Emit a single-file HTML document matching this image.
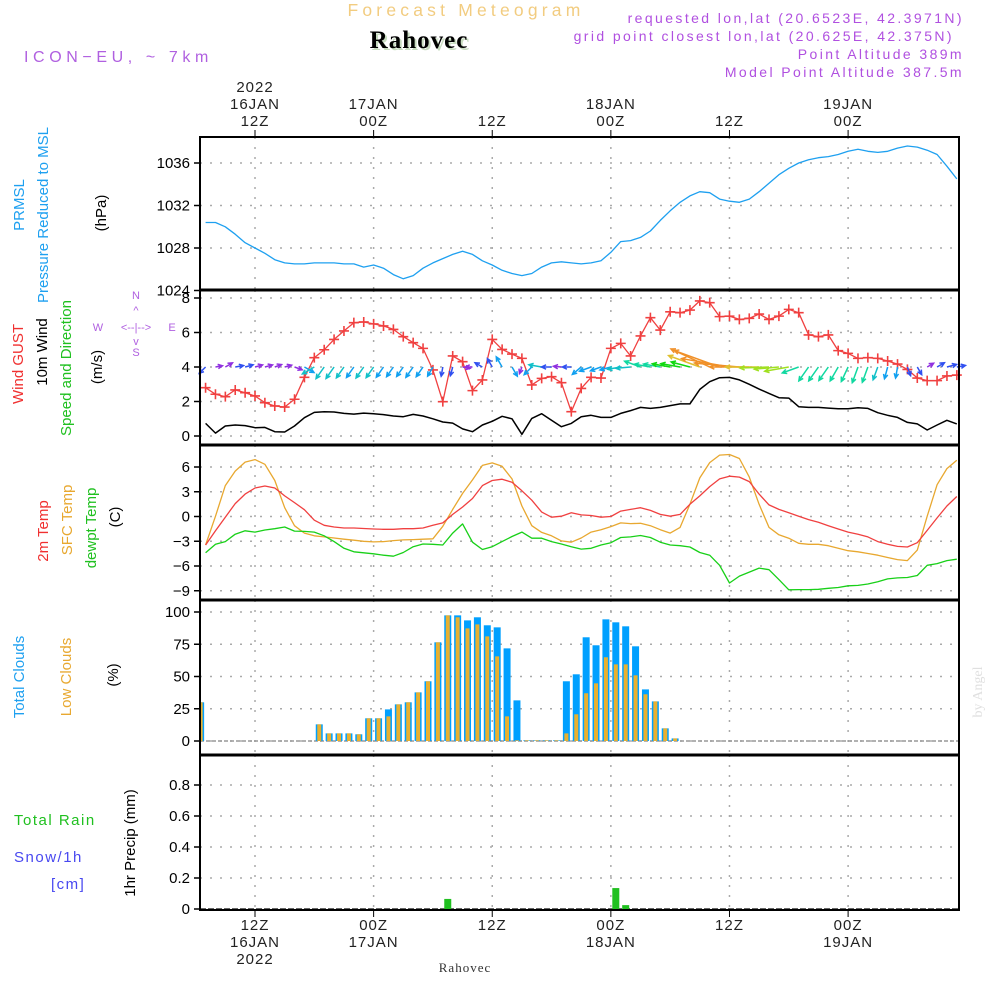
<!DOCTYPE html>
<html><head><meta charset="utf-8">
<style>
html,body{margin:0;padding:0;background:#fff;}
svg{display:block;font-family:"Liberation Sans",sans-serif;}
.tk{font-size:15px;fill:#000;text-anchor:end;}
.tl{font-size:15px;fill:#222;text-anchor:middle;letter-spacing:1px;}
.lab{font-size:15px;}
</style></head>
<body>
<svg id="chart" width="1000" height="1000" viewBox="0 0 1000 1000" xmlns="http://www.w3.org/2000/svg">
<g id="header">
<text x="466" y="16" font-size="17.5" fill="#f2cc80" text-anchor="middle" letter-spacing="4.2">Forecast Meteogram</text>
<text x="421" y="50" font-size="25" font-weight="bold" font-family="Liberation Serif,serif" fill="#c8dcc0" text-anchor="middle" letter-spacing="1">Rahovec</text>
<text x="419" y="48" font-size="25" font-weight="bold" font-family="Liberation Serif,serif" fill="#000" text-anchor="middle" letter-spacing="1">Rahovec</text>
<text x="24" y="62" font-size="16" fill="#b060e0" letter-spacing="4.6">ICON−EU, ~ 7km</text>
<g font-size="14" fill="#b050e0" text-anchor="end" letter-spacing="2.4">
<text x="964" y="23">requested lon,lat (20.6523E, 42.3971N)</text>
<text x="954" y="41">grid point closest lon,lat (20.625E, 42.375N)</text>
<text x="964" y="59">Point Altitude 389m</text>
<text x="964" y="77">Model Point Altitude 387.5m</text>
</g>
</g>
<g id="grid"></g>
<g id="marks"></g>
<g id="frames"></g>
<g id="axes"></g>
<g id="labels">
<g class="lab">
<text transform="translate(24,205) rotate(-90)" fill="#1ea0f0" text-anchor="middle">PRMSL</text>
<text transform="translate(48,215) rotate(-90)" fill="#1ea0f0" text-anchor="middle">Pressure Reduced to MSL</text>
<text transform="translate(106,213) rotate(-90)" fill="#000" text-anchor="middle">(hPa)</text>
<text transform="translate(23,364) rotate(-90)" fill="#f03030" text-anchor="middle">Wind GUST</text>
<text transform="translate(47,352) rotate(-90)" fill="#000" text-anchor="middle">10m Wind</text>
<text transform="translate(71,368) rotate(-90)" fill="#20c020" text-anchor="middle">Speed and Direction</text>
<text transform="translate(102,367) rotate(-90)" fill="#000" text-anchor="middle">(m/s)</text>
<text transform="translate(48,531) rotate(-90)" fill="#f03030" text-anchor="middle">2m Temp</text>
<text transform="translate(72,520) rotate(-90)" fill="#e8a830" text-anchor="middle">SFC Temp</text>
<text transform="translate(96,528) rotate(-90)" fill="#20c020" text-anchor="middle">dewpt Temp</text>
<text transform="translate(120,517) rotate(-90)" fill="#000" text-anchor="middle">(C)</text>
<text transform="translate(24,677) rotate(-90)" fill="#1ea0f0" text-anchor="middle">Total Clouds</text>
<text transform="translate(71,677) rotate(-90)" fill="#e8a830" text-anchor="middle">Low Clouds</text>
<text transform="translate(118,675) rotate(-90)" fill="#000" text-anchor="middle">(%)</text>
<text transform="translate(135,843) rotate(-90)" fill="#000" text-anchor="middle">1hr Precip (mm)</text>
</g>
<text x="14" y="825" font-size="15" fill="#20c020" letter-spacing="1.5">Total  Rain</text>
<text x="14" y="862" font-size="15" fill="#4848f0" letter-spacing="1.5">Snow/1h</text>
<text x="51" y="889" font-size="15" fill="#4848f0" letter-spacing="1.5">[cm]</text>
<g fill="#b060e0" font-size="11" text-anchor="middle">
<text x="136" y="299">N</text><text x="136" y="314">^</text>
<text x="98" y="331">W</text><text x="136" y="331">&lt;--|--&gt;</text><text x="172" y="331">E</text>
<text x="136" y="345">v</text><text x="136" y="356">S</text>
</g>
<text transform="translate(982,692) rotate(-90)" font-size="14" font-family="Liberation Serif,serif" fill="#e0e0e0" text-anchor="middle">by Angel</text>
<text x="465" y="972" font-size="13" font-family="Liberation Serif,serif" fill="#333" text-anchor="middle" letter-spacing="1">Rahovec</text>
</g>
</svg>
<script>
// ---- data (hourly, hours since 16JAN 00Z) ----
const hourStart = 7;
const pressure = [1030.4,1030.4,1030.0,1029.3,1028.5,1028.0,1027.5,1026.9,1026.6,1026.5,
1026.5,1026.6,1026.6,1026.6,1026.5,1026.5,1026.2,1026.4,1026.1,1025.5,
1025.1,1025.4,1026.1,1026.6,1027.0,1027.4,1027.7,1027.4,1026.8,1026.4,
1025.9,1025.6,1025.4,1025.6,1026.2,1026.6,1026.7,1026.6,1026.5,1026.6,
1026.8,1027.6,1028.6,1028.7,1029.0,1029.6,1030.6,1031.5,1032.3,1032.9,
1033.3,1033.2,1032.6,1032.4,1032.3,1032.6,1033.3,1034.1,1034.9,1035.5,
1036.0,1036.3,1036.5,1036.6,1036.8,1037.1,1037.3,1037.1,1037.0,1037.1,
1037.4,1037.6,1037.5,1037.2,1036.8,1035.7,1034.5];
const gust = [2.8,2.42,2.28,2.67,2.51,2.32,1.93,1.74,1.68,2.13,
3.4,4.54,5.0,5.6,6.09,6.57,6.61,6.5,6.38,6.18,
5.76,5.41,5.08,3.83,1.99,4.64,4.31,2.63,3.25,5.6,
5.02,4.75,4.5,2.96,3.34,3.44,3.09,1.41,2.76,3.4,
3.36,5.08,5.37,4.64,5.8,6.86,6.14,7.2,7.15,7.3,
7.83,7.73,6.92,6.95,6.76,6.82,7.07,6.76,6.95,7.34,
7.15,5.86,5.76,5.86,4.95,4.79,4.5,4.54,4.5,4.35,
4.17,3.86,3.36,3.21,3.21,3.48,3.53];
const wind10m = [0.73,0.17,0.58,0.64,0.6,0.48,0.5,0.25,0.23,0.58,
1.06,1.37,1.41,1.39,1.31,1.27,1.33,1.29,1.24,1.16,
1.12,1.25,1.16,1.0,0.81,0.75,0.41,0.25,0.64,0.85,
1.14,1.0,0.1,1.02,1.29,0.91,0.54,0.73,1.12,1.2,
1.08,1.08,1.31,1.47,1.66,1.6,1.66,1.76,1.86,1.86,
2.7,3.15,3.38,3.4,3.25,3.0,2.72,2.47,2.22,2.2,
1.7,1.66,1.66,1.62,1.58,1.58,1.64,1.6,1.35,1.2,
1.08,0.79,0.7,0.35,0.64,0.91,0.7];
const windDirTo = [225,80,60,80,75,75,75,70,75,110,
120,240,215,215,215,215,215,215,215,215,
215,215,215,210,190,195,100,270,300,330,
330,150,200,225,280,270,275,270,230,250,
250,255,260,265,290,280,280,280,280,285,
290,295,290,280,275,270,270,268,265,260,
250,215,215,215,210,205,200,200,200,195,
190,160,150,60,60,75,80];
const temp2m = [-3.45,-1.73,-0.08,1.56,2.71,3.45,3.7,3.45,2.5,1.68,
0.82,-0.45,-1.07,-1.27,-1.4,-1.4,-1.45,-1.52,-1.55,-1.55,
-1.48,-1.48,-1.4,-1.07,-0.78,0.25,1.15,2.18,3.74,4.36,
4.52,4.15,3.12,1.97,0.53,-0.08,0.04,0.45,0.2,0.12,
-0.08,0,0.66,0.86,1.07,0.74,0.25,0.04,0.25,1.48,
2.5,3.62,4.56,4.89,4.77,4.23,2.71,1.4,0.86,0.45,
0.04,-0.37,-0.7,-1.11,-1.52,-1.89,-2.14,-2.47,-3.04,-3.37,
-3.62,-3.7,-3.17,-1.69,-0.17,1.27,2.42];
const tempSfc = [-3.45,0.04,3.74,5.5,6.6,6.9,6.33,4.36,1.07,-1.11,
-2.01,-2.34,-2.47,-2.6,-2.75,-2.87,-3.0,-3.08,-3.04,-2.92,
-2.84,-2.8,-2.75,-2.7,-1.19,0.86,2.8,4.44,6.2,6.5,
6.08,4.56,1.27,-1.11,-1.93,-2.34,-2.96,-3.12,-2.6,-1.89,
-1.6,-1.23,-0.78,-0.86,-0.82,-1.11,-1.6,-2.01,-1.32,1.48,
4.68,6.53,7.44,7.52,7.03,4.77,1.48,-1.32,-2.22,-2.63,
-3.25,-3.37,-3.37,-3.54,-3.86,-4.15,-4.28,-4.48,-4.69,-4.97,
-5.22,-5.34,-4.07,0.04,3.86,5.8,6.82];
const dewpt = [-4.4,-3.37,-3.04,-2.14,-1.73,-1.89,-1.64,-1.48,-1.27,-1.77,
-1.81,-1.89,-2.34,-3.04,-3.86,-4.28,-4.4,-4.52,-4.69,-4.81,
-4.36,-3.66,-3.33,-3.37,-3.45,-2.01,-0.9,-3.12,-4.0,-3.66,
-3.04,-2.43,-1.89,-2.63,-2.63,-3.04,-3.33,-3.66,-3.95,-3.86,
-3.45,-3.17,-2.55,-2.47,-2.3,-2.55,-3.12,-3.45,-3.54,-3.7,
-4.36,-4.69,-5.92,-8.06,-7.23,-6.74,-6.25,-6.45,-7.65,-8.88,
-8.86,-8.86,-8.82,-8.7,-8.6,-8.4,-8.35,-8.18,-7.9,-7.56,
-7.44,-7.4,-7.15,-5.92,-5.71,-5.34,-5.18];
const cloudHours = [6,18,19,20,21,22,23,24,25,26,27,28,29,30,31,32,33,34,35,36,37,38,39,40,41,42,43,44,45,46,47,48,49,50,51,52,53,54];
const totalCloud = [30,12.9,5.9,5.9,5.9,5.2,17.6,17.6,24.5,28.4,30,37.7,46.3,76.5,97.4,97.4,93.5,95.9,89.7,88.1,71.8,31.5,0.5,0.5,0.5,0.5,46.3,51.7,80.4,74.2,94.3,92,88.9,73.4,40,30.7,9.8,2];
const lowCloud = [30,12.9,5.9,5.9,5.9,5.2,17.6,17.6,19.1,28.4,30,37.7,46.3,76.5,97.4,95.9,87.3,90.4,81.1,65.6,19.1,0.5,0.5,0.5,0.5,0.5,5.9,20.7,37,44.7,64.9,59.4,59.4,50.9,36.2,30.7,9.8,2];
const precipHours = [31,48,49];
const precipVals = [0.065,0.135,0.025];
const pressTicks = [1024,1028,1032,1036];
const windTicks = [0,2,4,6,8];
const tempTicks = [-9,-6,-3,0,3,6];
const cloudTicks = [0,25,50,75,100];
const precipTicks = [0,0.2,0.4,0.6,0.8];
const timeTicks = [12,24,36,48,60,72];
const timeTop = [["2022","16JAN","12Z"],["","17JAN","00Z"],["","","12Z"],["","18JAN","00Z"],["","","12Z"],["","19JAN","00Z"]];
const timeBottom = [["12Z","16JAN","2022"],["00Z","17JAN",""],["12Z","",""],["00Z","18JAN",""],["12Z","",""],["00Z","19JAN",""]];

// ---- axes ----
const X0=200, X1=959;
const xT = t => 255 + (t-12)*9.885;
const yP = v => 163 - (v-1036)*10.625;
const yW = v => 436 - v*17.25;
const yTm = v => 467 - (v-6)*8.25;
const yC = v => 741 - v*1.29;
const yR = v => 909 - v*155;
const panels = [
 {top:137,bot:290,ticks:pressTicks,y:yP,name:'pressure'},
 {top:290,bot:445,ticks:windTicks,y:yW,name:'wind'},
 {top:445,bot:600,ticks:tempTicks,y:yTm,name:'temperature'},
 {top:600,bot:755,ticks:cloudTicks,y:yC,name:'clouds'},
 {top:755,bot:910,ticks:precipTicks,y:yR,name:'precip'}];

const NS='http://www.w3.org/2000/svg';
function mk(tag, attrs, parent){const e=document.createElementNS(NS,tag);for(const k in attrs)e.setAttribute(k,attrs[k]);parent.appendChild(e);return e;}
const G=document.getElementById('grid'), M=document.getElementById('marks'), F=document.getElementById('frames'), A=document.getElementById('axes');

panels.forEach(p=>{
  p.ticks.forEach(v=>{
    const y=p.y(v);
    if(y>p.top+1 && y<p.bot-1){
      const l=mk('line',{x1:X0,x2:X1,y1:y,y2:y,stroke:'#aaa','stroke-width':1.5,'stroke-dasharray':'2 8'},G);
      
      
    }
    const tk=mk('line',{x1:X0-6,x2:X0,y1:y,y2:y,stroke:'#000','stroke-width':1.5},A);
    
    
    const tx=mk('text',{x:X0-10,y:y+5,class:'tk'},A);
    
    
    tx.textContent = (p.name==='precip' && v!==0) ? v.toFixed(1) : (v<0? '−'+Math.abs(v) : String(v));
  });
  timeTicks.forEach(t=>{
    const vl=mk('line',{x1:xT(t),x2:xT(t),y1:p.top,y2:p.bot,stroke:'#aaa','stroke-width':1.5,'stroke-dasharray':'2 8'},G);
    
    
  });
  const fr=mk('rect',{x:X0,y:p.top,width:X1-X0,height:p.bot-p.top,fill:'none',stroke:'#000','stroke-width':2},F);
  
  
});
[290,445,600,755].forEach(y=>{
  const s=mk('line',{x1:X0,x2:X1,y1:y,y2:y,stroke:'#000','stroke-width':3},F);
  
  
});
timeTicks.forEach((t,i)=>{
  const x=xT(t);
  const a=mk('line',{x1:x,x2:x,y1:130,y2:137,stroke:'#000','stroke-width':1},A);
  
  
  const b=mk('line',{x1:x,x2:x,y1:910,y2:917,stroke:'#000','stroke-width':1},A);
  
  
  timeTop[i].forEach((s,j)=>{ if(!s) return;
    const tx=mk('text',{x:x,y:92+j*17,class:'tl'},A);
    
    
    tx.textContent=s; });
  timeBottom[i].forEach((s,j)=>{ if(!s) return;
    const tx=mk('text',{x:x,y:930+j*17,class:'tl'},A);
    
    
    tx.textContent=s; });
});

function line(vals, yf, color, name, w){
  const pts=vals.map((v,i)=>xT(hourStart+i).toFixed(1)+','+yf(v).toFixed(1)).join(' ');
  const pl=mk('polyline',{points:pts,fill:'none',stroke:color,'stroke-width':w||1.3,'stroke-linejoin':'round'},M);
  
  
}
line(pressure, yP, '#1ea0f0', 'pressure-line');
line(wind10m, yW, '#000', 'wind-10m-line', 1.5);
line(gust, yW, '#f04040', 'wind-gust-line');
gust.forEach((v,i)=>{
  const x=xT(hourStart+i), y=yW(v);
  const g=mk('path',{d:`M${x-5},${y}H${x+5}M${x},${y-5}V${y+5}`,stroke:'#f04040','stroke-width':1.6},M);
  
  
});
function windColor(s){
  if(s<0.6) return '#9030e0';
  if(s<0.95) return '#3050f0';
  if(s<1.28) return '#10a0f0';
  if(s<1.55) return '#10c0c8';
  if(s<1.75) return '#10d8a0';
  if(s<2.0) return '#10d810';
  if(s<2.5) return '#a0e020';
  if(s<2.9) return '#e0c030';
  return '#f09028';
}
windDirTo.forEach((d,i)=>{
  const s=wind10m[i];
  const x0=xT(hourStart+i), y0=yW(4);
  const L=7+3.6*s*s;
  const r=d*Math.PI/180;
  const x1=x0+L*Math.sin(r), y1=y0-L*Math.cos(r);
  const ang=Math.atan2(y1-y0,x1-x0);
  const h=5;
  const hx1=x1-h*Math.cos(ang-0.45), hy1=y1-h*Math.sin(ang-0.45);
  const hx2=x1-h*Math.cos(ang+0.45), hy2=y1-h*Math.sin(ang+0.45);
  const c=windColor(s);
  const ar=mk('path',{d:`M${x0},${y0}L${x1},${y1}M${hx1},${hy1}L${x1},${y1}L${hx2},${hy2}`,stroke:c,'stroke-width':1.5,fill:'none'},M);
  
  
});
line(tempSfc, yTm, '#e8a830', 'sfc-temp-line');
line(temp2m, yTm, '#f04040', '2m-temp-line');
line(dewpt, yTm, '#18d018', 'dewpt-line');
const cb=mk('line',{x1:X0,x2:X1,y1:yC(0),y2:yC(0),stroke:'#999','stroke-width':1.5,'stroke-dasharray':'4 2'},M);


cloudHours.forEach((t,i)=>{
  const xc=xT(t+0.5);
  let xa=Math.max(X0+1,xc-3.5), xb=xc+3.5;
  const tb=mk('rect',{x:xa,y:yC(totalCloud[i]),width:Math.max(0,xb-xa),height:yC(0)-yC(totalCloud[i]),fill:'#00a0ff'},M);
  
  
  xa=Math.max(X0+1,xc-2); xb=xc+2;
  const lb=mk('rect',{x:xa,y:yC(lowCloud[i]),width:Math.max(0,xb-xa),height:yC(0)-yC(lowCloud[i]),fill:'#e8b030'},M);
  
  
});
const pb=mk('line',{x1:X0,x2:X1,y1:yR(0),y2:yR(0),stroke:'#333','stroke-width':1.5,'stroke-dasharray':'6 2'},M);


precipHours.forEach((t,i)=>{
  const xc=xT(t+0.5);
  const r=mk('rect',{x:xc-3.5,y:yR(precipVals[i]),width:7,height:yR(0)-yR(precipVals[i]),fill:'#20c020'},M);
  
  
});
</script>
</body></html>
